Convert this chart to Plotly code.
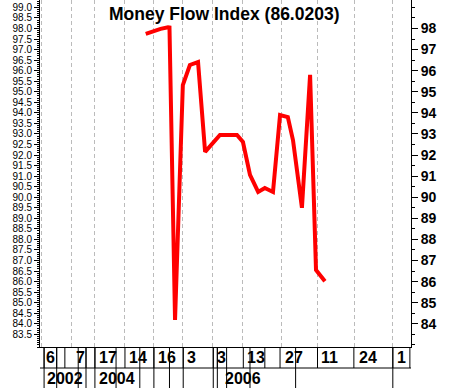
import numpy as np
import plotly.graph_objects as go

# ---- data ----
x_idx = [28.5, 30.5, 32.5, 34.5, 34.9, 36.4, 38.5, 40.4, 41.5, 42.6, 44.5,
         48.5, 53.1, 54.7, 56.6, 58.8, 60.6, 62.8, 64.7, 66.8, 68.2, 70.6,
         72.8, 74.4, 76.8]
mfi = [97.74, 97.88, 97.98, 98.06, 98.05, 84.18, 95.32, 96.27, 96.36, 96.41, 92.15,
       92.95, 92.95, 92.62, 91.06, 90.25, 90.44, 90.25, 93.90, 93.80, 92.70, 89.50,
       95.80, 86.55, 86.02]

tick_pos = [0.5, 8.6, 14.8, 22.9, 30.7, 38.5, 46.6, 54.7, 65.0, 74.7, 84.9, 95.1]
tick_labels = ["6", "7", "17", "14", "16", "3", "3", "13", "27", "11", "24", "1"]
year_pos = [1.35, 15.3, 49.2]
year_labels = ["2002", "2004", "2006"]

left_ticks = [round(83.5 + 0.5 * i, 1) for i in range(32)]
right_ticks = list(range(84, 99))

# decorative separators of the date rows (axis units)
row1_sep = [1.1, 4.5, 6.7, 12.4, 14.8, 22.9, 30.7, 38.6, 46.7, 47.8, 54.8, 60.6,
            64.7, 74.8, 84.6, 95.1, 99.7]
full_sep = [1.1, 4.5, 10.3, 12.4, 14.8, 20.5, 26.9, 30.7, 34.9, 38.6, 46.7, 47.8,
            50.3, 56.6, 68.9, 95.1]

YR = [82.9, 99.35]
PH = 347.0  # plot height px
def py(px):
    return (PH - px) / PH

fig = go.Figure()
fig.add_trace(go.Scatter(x=x_idx, y=mfi, mode="lines",
                         line=dict(color="#ff0000", width=4),
                         showlegend=False, hoverinfo="skip"))
fig.add_trace(go.Scatter(x=[x_idx[-1]], y=[mfi[-1]], yaxis="y2", mode="none",
                         showlegend=False, hoverinfo="skip"))

bold = dict(family="Liberation Sans, Arial", size=14, color="black", weight="bold")
bold_x = dict(family="Liberation Sans, Arial", size=16, color="black", weight="bold")

fig.update_layout(
    width=450, height=388,
    margin=dict(l=40, r=39, t=0, b=41),
    paper_bgcolor="white", plot_bgcolor="white",
    xaxis=dict(range=[0, 100], tickmode="array", tickvals=tick_pos,
               showticklabels=False, ticks="", showgrid=True,
               gridcolor="#bbbbbb", griddash="4px,3px", gridwidth=1,
               zeroline=False, showline=True, linecolor="black", linewidth=1),
    yaxis=dict(range=YR, tickmode="array", tickvals=left_ticks,
               tickformat=".1f", ticks="outside", ticklen=5, tickcolor="black",
               showgrid=False, zeroline=False, showline=True,
               linecolor="black", linewidth=1,
               tickfont=dict(family="Liberation Sans, Arial", size=10, color="black"),
               minor=dict(tickmode="linear", tick0=0, dtick=0.1, ticklen=2,
                          ticks="outside", tickcolor="black", showgrid=False)),
    yaxis2=dict(range=YR, overlaying="y", side="right", tickmode="array",
                tickvals=right_ticks, ticks="outside", ticklen=6,
                tickcolor="black", showgrid=False, zeroline=False,
                showline=True, linecolor="black", linewidth=1,
                tickfont=bold,
                minor=dict(tickmode="linear", tick0=0, dtick=0.5, ticklen=3,
                           ticks="outside", tickcolor="black", showgrid=False)),
)

fig.add_annotation(text="Money Flow Index (86.0203)", xref="paper", yref="paper",
                   x=0.496, y=py(14), xanchor="center", yanchor="middle",
                   showarrow=False,
                   font=dict(family="Liberation Sans, Arial", size=17.5,
                             color="black", weight="bold"))

for p, t in zip(tick_pos, tick_labels):
    fig.add_annotation(text=t, x=p, xref="x", y=py(358), yref="paper",
                       xanchor="left", yanchor="middle", xshift=2,
                       showarrow=False, font=bold_x)
for p, t in zip(year_pos, year_labels):
    fig.add_annotation(text=t, x=p, xref="x", y=py(378), yref="paper",
                       xanchor="left", yanchor="middle", xshift=0,
                       showarrow=False, font=bold_x)

shapes = []
for s in row1_sep:
    shapes.append(dict(type="line", xref="x", yref="paper", x0=s, x1=s,
                       y0=py(347), y1=py(368), line=dict(color="black", width=1)))
for s in full_sep:
    shapes.append(dict(type="line", xref="x", yref="paper", x0=s, x1=s,
                       y0=py(347), y1=py(390), line=dict(color="black", width=1)))
shapes.append(dict(type="line", xref="paper", yref="paper", x0=0, x1=1,
                   y0=py(368), y1=py(368), line=dict(color="black", width=1)))
fig.update_layout(shapes=shapes)

fig.write_html("out.html")
